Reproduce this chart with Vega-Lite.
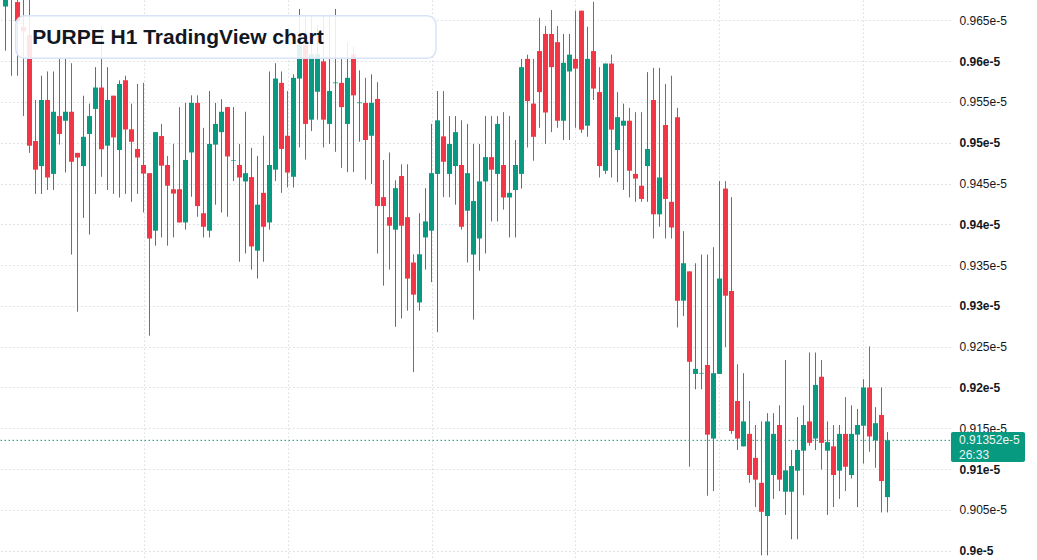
{
  "$schema": "https://vega.github.io/schema/vega-lite/v6.json",
  "width": 950,
  "height": 560,
  "autosize": {"type": "none"},
  "padding": {"left": 0, "top": 0, "right": 87, "bottom": 0},
  "background": "#ffffff",
  "config": {"view": {"stroke": null}},
  "datasets": {
    "candles": [
      {"t":0,"open":0.96671,"high":0.96881,"low":0.96128,"close":0.96794},
      {"t":1,"open":0.96925,"high":0.97013,"low":0.95822,"close":0.96794},
      {"t":2,"open":0.96724,"high":0.96794,"low":0.95822,"close":0.96487},
      {"t":3,"open":0.96422,"high":0.96794,"low":0.95327,"close":0.96365},
      {"t":4,"open":0.96321,"high":0.96772,"low":0.94876,"close":0.94964},
      {"t":5,"open":0.95021,"high":0.95524,"low":0.94373,"close":0.94670},
      {"t":6,"open":0.94714,"high":0.95822,"low":0.94373,"close":0.95524},
      {"t":7,"open":0.95524,"high":0.95874,"low":0.94421,"close":0.94574},
      {"t":8,"open":0.94618,"high":0.95874,"low":0.94421,"close":0.95380},
      {"t":9,"open":0.95327,"high":0.96028,"low":0.94977,"close":0.95108},
      {"t":10,"open":0.95270,"high":0.96028,"low":0.94635,"close":0.95380},
      {"t":11,"open":0.95380,"high":0.95975,"low":0.93629,"close":0.94767},
      {"t":12,"open":0.94876,"high":0.94876,"low":0.92928,"close":0.94819},
      {"t":13,"open":0.94714,"high":0.95577,"low":0.94079,"close":0.95073},
      {"t":14,"open":0.95108,"high":0.95480,"low":0.93874,"close":0.95327},
      {"t":15,"open":0.95415,"high":0.95927,"low":0.94373,"close":0.95677},
      {"t":16,"open":0.95677,"high":0.96422,"low":0.94583,"close":0.94920},
      {"t":17,"open":0.94964,"high":0.95927,"low":0.94421,"close":0.95524},
      {"t":18,"open":0.95577,"high":0.95577,"low":0.94373,"close":0.95065},
      {"t":19,"open":0.94911,"high":0.95765,"low":0.94329,"close":0.95721},
      {"t":20,"open":0.95765,"high":0.95822,"low":0.94373,"close":0.95161},
      {"t":21,"open":0.95165,"high":0.95480,"low":0.94276,"close":0.95012},
      {"t":22,"open":0.94924,"high":0.95721,"low":0.94373,"close":0.94819},
      {"t":23,"open":0.94727,"high":0.95734,"low":0.94145,"close":0.94622},
      {"t":24,"open":0.94627,"high":0.94627,"low":0.92635,"close":0.93826},
      {"t":25,"open":0.93922,"high":0.95130,"low":0.93738,"close":0.95130},
      {"t":26,"open":0.95082,"high":0.95231,"low":0.93839,"close":0.94719},
      {"t":27,"open":0.94727,"high":0.94837,"low":0.93738,"close":0.94473},
      {"t":28,"open":0.94430,"high":0.94986,"low":0.93839,"close":0.94377},
      {"t":29,"open":0.94430,"high":0.95437,"low":0.94023,"close":0.94023},
      {"t":30,"open":0.94023,"high":0.95489,"low":0.93935,"close":0.94789},
      {"t":31,"open":0.94881,"high":0.95581,"low":0.94338,"close":0.95489},
      {"t":32,"open":0.95489,"high":0.95581,"low":0.94093,"close":0.94224},
      {"t":33,"open":0.94136,"high":0.95183,"low":0.93839,"close":0.93970},
      {"t":34,"open":0.93922,"high":0.95634,"low":0.93839,"close":0.94986},
      {"t":35,"open":0.94977,"high":0.95489,"low":0.94241,"close":0.95231},
      {"t":36,"open":0.95130,"high":0.95533,"low":0.94145,"close":0.95380},
      {"t":37,"open":0.95437,"high":0.95437,"low":0.94093,"close":0.94832},
      {"t":38,"open":0.94776,"high":0.95437,"low":0.94530,"close":0.94784},
      {"t":39,"open":0.94727,"high":0.94986,"low":0.93541,"close":0.94574},
      {"t":40,"open":0.94526,"high":0.95380,"low":0.93642,"close":0.94627},
      {"t":41,"open":0.94579,"high":0.94938,"low":0.93445,"close":0.93729},
      {"t":42,"open":0.93677,"high":0.94837,"low":0.93335,"close":0.94241},
      {"t":43,"open":0.94386,"high":0.95086,"low":0.93541,"close":0.93970},
      {"t":44,"open":0.94023,"high":0.95874,"low":0.93935,"close":0.94727},
      {"t":45,"open":0.94670,"high":0.95975,"low":0.94530,"close":0.95787},
      {"t":46,"open":0.95734,"high":0.95874,"low":0.94386,"close":0.94924},
      {"t":47,"open":0.95086,"high":0.95634,"low":0.94452,"close":0.94635},
      {"t":48,"open":0.94583,"high":0.95839,"low":0.94452,"close":0.95796},
      {"t":49,"open":0.95787,"high":0.96641,"low":0.94942,"close":0.96198},
      {"t":50,"open":0.96203,"high":0.96553,"low":0.94793,"close":0.95231},
      {"t":51,"open":0.95283,"high":0.96553,"low":0.95143,"close":0.96085},
      {"t":52,"open":0.95625,"high":0.96444,"low":0.95283,"close":0.96085},
      {"t":53,"open":0.95997,"high":0.96553,"low":0.94942,"close":0.95283},
      {"t":54,"open":0.95231,"high":0.96553,"low":0.94986,"close":0.95634},
      {"t":55,"open":0.95730,"high":0.96641,"low":0.94889,"close":0.95739},
      {"t":56,"open":0.95734,"high":0.96050,"low":0.94692,"close":0.95437},
      {"t":57,"open":0.95231,"high":0.96233,"low":0.94640,"close":0.95796},
      {"t":58,"open":0.96085,"high":0.96181,"low":0.94640,"close":0.95581},
      {"t":59,"open":0.95485,"high":0.95888,"low":0.95012,"close":0.95494},
      {"t":60,"open":0.95489,"high":0.95796,"low":0.94548,"close":0.95034},
      {"t":61,"open":0.95086,"high":0.95839,"low":0.94495,"close":0.95489},
      {"t":62,"open":0.95537,"high":0.95743,"low":0.93642,"close":0.94224},
      {"t":63,"open":0.94333,"high":0.94789,"low":0.93248,"close":0.94224},
      {"t":64,"open":0.94088,"high":0.94881,"low":0.93445,"close":0.93983},
      {"t":65,"open":0.93935,"high":0.94539,"low":0.92744,"close":0.94443},
      {"t":66,"open":0.94592,"high":0.94736,"low":0.92845,"close":0.93983},
      {"t":67,"open":0.94088,"high":0.94736,"low":0.92941,"close":0.93335},
      {"t":68,"open":0.93532,"high":0.93633,"low":0.92188,"close":0.93138},
      {"t":69,"open":0.93042,"high":0.94136,"low":0.92941,"close":0.93633},
      {"t":70,"open":0.93839,"high":0.94443,"low":0.93445,"close":0.94036},
      {"t":71,"open":0.93922,"high":0.95231,"low":0.93291,"close":0.94627},
      {"t":72,"open":0.94618,"high":0.95634,"low":0.92678,"close":0.95275},
      {"t":73,"open":0.95078,"high":0.95634,"low":0.94333,"close":0.94767},
      {"t":74,"open":0.94618,"high":0.95327,"low":0.94333,"close":0.94986},
      {"t":75,"open":0.94714,"high":0.95327,"low":0.94241,"close":0.95130},
      {"t":76,"open":0.94727,"high":0.95275,"low":0.93935,"close":0.93970},
      {"t":77,"open":0.94167,"high":0.95231,"low":0.93532,"close":0.94627},
      {"t":78,"open":0.93629,"high":0.94986,"low":0.92832,"close":0.94285},
      {"t":79,"open":0.93826,"high":0.94986,"low":0.93432,"close":0.94526},
      {"t":80,"open":0.94526,"high":0.95327,"low":0.93642,"close":0.94824},
      {"t":81,"open":0.94824,"high":0.95327,"low":0.94036,"close":0.94670},
      {"t":82,"open":0.94618,"high":0.95327,"low":0.94036,"close":0.95231},
      {"t":83,"open":0.94727,"high":0.95375,"low":0.94180,"close":0.94329},
      {"t":84,"open":0.94329,"high":0.95327,"low":0.93839,"close":0.94386},
      {"t":85,"open":0.94421,"high":0.95034,"low":0.93839,"close":0.94727},
      {"t":86,"open":0.94618,"high":0.96028,"low":0.94438,"close":0.95927},
      {"t":87,"open":0.96028,"high":0.96080,"low":0.94942,"close":0.95511},
      {"t":88,"open":0.95480,"high":0.96028,"low":0.94780,"close":0.95073},
      {"t":89,"open":0.96124,"high":0.96531,"low":0.95183,"close":0.95621},
      {"t":90,"open":0.96334,"high":0.96430,"low":0.94986,"close":0.95371},
      {"t":91,"open":0.96334,"high":0.96627,"low":0.95130,"close":0.95927},
      {"t":92,"open":0.96233,"high":0.96430,"low":0.95183,"close":0.95270},
      {"t":93,"open":0.95270,"high":0.96334,"low":0.95034,"close":0.95980},
      {"t":94,"open":0.95874,"high":0.96334,"low":0.95034,"close":0.96080},
      {"t":95,"open":0.96028,"high":0.96619,"low":0.95183,"close":0.95909},
      {"t":96,"open":0.96619,"high":0.96619,"low":0.95121,"close":0.95161},
      {"t":97,"open":0.95209,"high":0.96422,"low":0.95073,"close":0.96028},
      {"t":98,"open":0.96124,"high":0.96728,"low":0.95524,"close":0.95664},
      {"t":99,"open":0.95621,"high":0.95927,"low":0.94574,"close":0.94714},
      {"t":100,"open":0.94657,"high":0.95971,"low":0.94618,"close":0.95971},
      {"t":101,"open":0.95971,"high":0.96080,"low":0.94574,"close":0.95161},
      {"t":102,"open":0.94911,"high":0.95621,"low":0.94517,"close":0.95314},
      {"t":103,"open":0.95209,"high":0.95480,"low":0.94421,"close":0.95270},
      {"t":104,"open":0.95270,"high":0.95428,"low":0.94329,"close":0.94657},
      {"t":105,"open":0.94618,"high":0.95375,"low":0.94276,"close":0.94561},
      {"t":106,"open":0.94473,"high":0.95375,"low":0.94276,"close":0.94311},
      {"t":107,"open":0.94714,"high":0.95866,"low":0.94276,"close":0.94924},
      {"t":108,"open":0.95524,"high":0.95918,"low":0.93826,"close":0.94123},
      {"t":109,"open":0.94123,"high":0.95918,"low":0.93970,"close":0.94574},
      {"t":110,"open":0.95218,"high":0.95721,"low":0.93826,"close":0.94311},
      {"t":111,"open":0.94276,"high":0.95822,"low":0.93826,"close":0.93961},
      {"t":112,"open":0.95314,"high":0.95428,"low":0.92735,"close":0.93064},
      {"t":113,"open":0.93064,"high":0.93917,"low":0.92875,"close":0.93523},
      {"t":114,"open":0.93423,"high":0.93423,"low":0.91028,"close":0.92315},
      {"t":115,"open":0.92166,"high":0.93523,"low":0.91978,"close":0.92228},
      {"t":116,"open":0.92171,"high":0.93629,"low":0.91978,"close":0.92179},
      {"t":117,"open":0.92276,"high":0.93629,"low":0.90673,"close":0.91422},
      {"t":118,"open":0.91374,"high":0.93720,"low":0.90730,"close":0.92175},
      {"t":119,"open":0.92166,"high":0.94530,"low":0.92166,"close":0.93335},
      {"t":120,"open":0.94438,"high":0.94530,"low":0.92495,"close":0.93125},
      {"t":121,"open":0.93182,"high":0.94333,"low":0.91431,"close":0.91466},
      {"t":122,"open":0.91834,"high":0.92284,"low":0.91234,"close":0.91374},
      {"t":123,"open":0.91278,"high":0.92175,"low":0.91278,"close":0.91584},
      {"t":124,"open":0.91431,"high":0.91834,"low":0.90831,"close":0.90927},
      {"t":125,"open":0.91137,"high":0.91540,"low":0.90533,"close":0.90870},
      {"t":126,"open":0.90831,"high":0.91584,"low":0.89942,"close":0.90476},
      {"t":127,"open":0.90424,"high":0.91685,"low":0.89942,"close":0.91584},
      {"t":128,"open":0.90927,"high":0.91685,"low":0.90634,"close":0.91431},
      {"t":129,"open":0.91540,"high":0.91781,"low":0.90730,"close":0.90870},
      {"t":130,"open":0.90722,"high":0.92337,"low":0.90437,"close":0.90984},
      {"t":131,"open":0.90722,"high":0.91234,"low":0.90139,"close":0.91037},
      {"t":132,"open":0.90980,"high":0.91637,"low":0.90139,"close":0.91234},
      {"t":133,"open":0.91225,"high":0.91781,"low":0.90678,"close":0.91540},
      {"t":134,"open":0.91584,"high":0.92429,"low":0.91286,"close":0.91321},
      {"t":135,"open":0.91374,"high":0.92429,"low":0.91234,"close":0.92031},
      {"t":136,"open":0.92131,"high":0.92337,"low":0.90993,"close":0.91321},
      {"t":137,"open":0.91225,"high":0.91584,"low":0.90437,"close":0.91330},
      {"t":138,"open":0.91278,"high":0.91540,"low":0.90533,"close":0.90927},
      {"t":139,"open":0.90980,"high":0.91540,"low":0.90634,"close":0.91431},
      {"t":140,"open":0.91431,"high":0.91882,"low":0.90730,"close":0.91028},
      {"t":141,"open":0.90927,"high":0.91781,"low":0.90883,"close":0.91431},
      {"t":142,"open":0.91422,"high":0.91737,"low":0.90533,"close":0.91540},
      {"t":143,"open":0.91531,"high":0.92101,"low":0.91067,"close":0.92000},
      {"t":144,"open":0.92000,"high":0.92503,"low":0.91212,"close":0.91400},
      {"t":145,"open":0.91352,"high":0.91759,"low":0.91015,"close":0.91562},
      {"t":146,"open":0.91663,"high":0.92000,"low":0.90468,"close":0.90853},
      {"t":147,"open":0.90656,"high":0.91453,"low":0.90468,"close":0.91352}
    ]
  },
  "layer": [
    {
      "data": {"name": "candles"},
      "mark": {"type": "rule", "strokeWidth": 1, "clip": true},
      "encoding": {
        "x": {
          "field": "t", "type": "quantitative",
          "scale": {"domain": [-0.9167, 157.4167], "nice": false, "zero": false, "padding": 0},
          "axis": {
            "values": [23, 47, 71, 95, 119, 143],
            "labels": false, "ticks": false, "domain": false, "title": null,
            "grid": true, "gridColor": "#d9dce3", "gridDash": [1.5, 2.5], "gridWidth": 1
          }
        },
        "y": {
          "field": "low", "type": "quantitative",
          "scale": {"domain": [0.89885, 0.9675], "nice": false, "zero": false, "padding": 0},
          "axis": {
            "orient": "right",
            "values": [0.9, 0.905, 0.91, 0.915, 0.92, 0.925, 0.93, 0.935, 0.94, 0.945, 0.95, 0.955, 0.96, 0.965],
            "labelExpr": "format(datum.value, '.3~f') + 'e-5'",
            "domain": false, "ticks": false, "title": null,
            "labelPadding": 9, "labelFont": "Liberation Sans", "labelFontSize": 12,
            "labelColor": "#131722",
            "labelFontWeight": {"condition": {"test": "round(datum.value * 1000) % 10 == 0", "value": "bold"}, "value": "normal"},
            "grid": true, "gridColor": "#d9dce3", "gridDash": [1.5, 2.5], "gridWidth": 1
          }
        },
        "y2": {"field": "high"},
        "color": {"condition": {"test": "datum.open <= datum.close", "value": "#089981"}, "value": "#f23645"}
      }
    },
    {
      "data": {"name": "candles"},
      "mark": {"type": "bar", "width": 5, "clip": true},
      "encoding": {
        "x": {"field": "t", "type": "quantitative"},
        "y": {"field": "open", "type": "quantitative"},
        "y2": {"field": "close"},
        "color": {"condition": {"test": "datum.open <= datum.close", "value": "#089981"}, "value": "#f23645"}
      }
    },
    {
      "data": {"values": [{"price": 0.91352}]},
      "mark": {"type": "rule", "color": "#089981", "strokeWidth": 1, "strokeDash": [1.5, 2.5]},
      "encoding": {"y": {"field": "price", "type": "quantitative"}}
    },
    {
      "data": {"values": [{"x1": 1.7, "x2": 71.75, "y1": 0.96558, "y2": 0.96035}]},
      "mark": {"type": "rect", "fill": "#ffffff", "fillOpacity": 0.88, "stroke": "#d7e3f8", "strokeWidth": 1.5, "cornerRadius": 9},
      "encoding": {
        "x": {"field": "x1", "type": "quantitative"},
        "x2": {"field": "x2"},
        "y": {"field": "y1", "type": "quantitative"},
        "y2": {"field": "y2"}
      }
    },
    {
      "data": {"values": [{"x": 4.47, "y": 0.96207, "label": "PURPE H1 TradingView chart"}]},
      "mark": {"type": "text", "align": "left", "baseline": "alphabetic", "font": "Liberation Sans", "fontSize": 21, "fontWeight": "bold", "color": "#131722"},
      "encoding": {
        "x": {"field": "x", "type": "quantitative"},
        "y": {"field": "y", "type": "quantitative"},
        "text": {"field": "label"}
      }
    },
    {
      "data": {"values": [{"x1": 157.58, "x2": 169.92, "y1": 0.914545, "y2": 0.910868}]},
      "mark": {"type": "rect", "fill": "#089981", "cornerRadius": 2},
      "encoding": {
        "x": {"field": "x1", "type": "quantitative"},
        "x2": {"field": "x2"},
        "y": {"field": "y1", "type": "quantitative"},
        "y2": {"field": "y2"}
      }
    },
    {
      "data": {"values": [
        {"x": 158.92, "y": 0.913565, "label": "0.91352e-5"},
        {"x": 158.92, "y": 0.911726, "label": "26:33"}
      ]},
      "mark": {"type": "text", "align": "left", "baseline": "middle", "font": "Liberation Sans", "fontSize": 12, "color": "#ffffff", "opacity": 0.92},
      "encoding": {
        "x": {"field": "x", "type": "quantitative"},
        "y": {"field": "y", "type": "quantitative"},
        "text": {"field": "label"}
      }
    }
  ]
}
